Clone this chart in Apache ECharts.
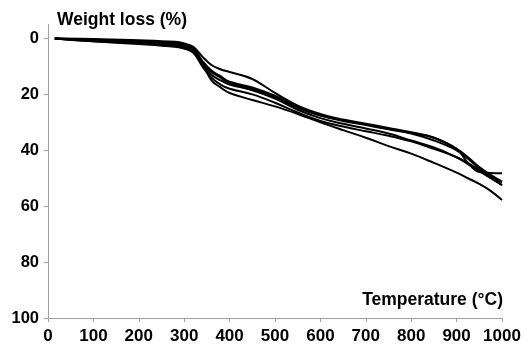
<!DOCTYPE html>
<html>
<head>
<meta charset="utf-8">
<script src="https://cdn.jsdelivr.net/npm/echarts@6/dist/echarts.min.js"></script>
<style>
  html, body { margin: 0; padding: 0; background: #fff; }
  #chart { width: 528px; height: 345px; }
</style>
</head>
<body>
<div id="chart"></div>
<script>
// temperatures (°C) shared by every curve
const temps = [15, 100, 200, 280, 300, 320, 340, 360, 380, 400, 450, 500, 550, 600, 650, 700, 750, 800, 850, 900, 925, 950, 975, 1000];

// weight loss (%), one array per sample
const sampleA = [0, 0.2, 0.6, 1.2, 1.8, 3.0, 6.5, 9.5, 11.0, 12.0, 14.5, 19.5, 24.0, 27.0, 29.0, 30.5, 32.0, 33.5, 35.5, 39.5, 42.5, 46.0, 48.8, 51.2];
const sampleB = [0, 0.4, 0.9, 1.5, 2.0, 3.5, 8.0, 11.5, 13.5, 15.5, 17.5, 20.5, 24.5, 27.5, 29.3, 30.8, 32.3, 33.8, 35.5, 39.5, 44.5, 47.8, 48.1, 48.2];
const sampleC = [0, 0.6, 1.2, 2.0, 2.5, 4.0, 8.5, 12.0, 14.0, 16.0, 18.0, 21.0, 24.8, 27.6, 29.5, 31.0, 32.5, 34.0, 36.5, 40.0, 43.0, 46.5, 49.5, 52.4];
const sampleD = [0, 0.8, 1.5, 2.5, 3.0, 4.5, 9.0, 13.0, 15.0, 16.5, 18.5, 21.5, 25.5, 28.5, 30.5, 32.2, 34.0, 36.5, 39.0, 42.5, 44.5, 47.0, 49.5, 51.5];
const sampleE = [0, 1.0, 1.8, 2.8, 3.5, 5.0, 10.0, 14.0, 16.5, 18.0, 20.0, 23.0, 26.5, 29.5, 31.5, 33.2, 34.8, 36.8, 39.5, 42.5, 45.0, 47.5, 50.0, 52.5];
const sampleF = [0, 1.0, 2.0, 3.0, 3.6, 5.0, 9.0, 15.0, 17.5, 19.5, 22.0, 24.3, 27.0, 30.0, 32.8, 35.5, 38.5, 41.2, 44.5, 48.0, 50.0, 52.0, 54.5, 57.8];

const xTicks = [0, 100, 200, 300, 400, 500, 600, 700, 800, 900, 1000];
const yTicks = [0, 20, 40, 60, 80, 100];

const samples = [sampleA, sampleB, sampleC, sampleD, sampleE, sampleF];
const font = "'Liberation Sans', Arial, sans-serif";
const axisGray = '#a0a0a0';

const chart = echarts.init(document.getElementById('chart'));
chart.setOption({
    animation: false,
    grid: { left: 48, right: 26, top: 24.5, bottom: 26.5 },
    xAxis: {
        type: 'value',
        min: 0,
        max: 1000,
        interval: 100,
        splitLine: { show: false },
        axisLine: { onZero: false, lineStyle: { color: axisGray, width: 1 } },
        axisTick: { show: true, length: 4, lineStyle: { color: axisGray } },
        axisLabel: {
            margin: 10,
            color: '#000',
            fontWeight: 'bold',
            fontSize: 17,
            fontFamily: font,
            customValues: xTicks,
            formatter: v => String(v)
        }
    },
    yAxis: {
        type: 'value',
        inverse: true,
        min: -5,
        max: 100,
        splitLine: { show: false },
        axisLine: { show: true, lineStyle: { color: axisGray, width: 1 } },
        axisTick: { show: true, length: 4, lineStyle: { color: axisGray }, customValues: yTicks },
        axisLabel: {
            margin: 9,
            color: '#000',
            fontWeight: 'bold',
            fontSize: 16.5,
            fontFamily: font,
            customValues: yTicks
        }
    },
    graphic: [
        {
            type: 'text',
            left: 57,
            top: 11,
            style: { text: 'Weight loss (%)', font: 'bold 17.5px ' + font, fill: '#000' }
        },
        {
            type: 'text',
            right: 25,
            top: 291,
            style: { text: 'Temperature (°C)', font: 'bold 17.5px ' + font, fill: '#000' }
        }
    ],
    series: samples.map(vals => ({
        type: 'line',
        smooth: 0.4,
        showSymbol: false,
        lineStyle: { color: '#000', width: 2 },
        data: temps.map((t, i) => [t, vals[i]])
    }))
});
</script>
</body>
</html>
